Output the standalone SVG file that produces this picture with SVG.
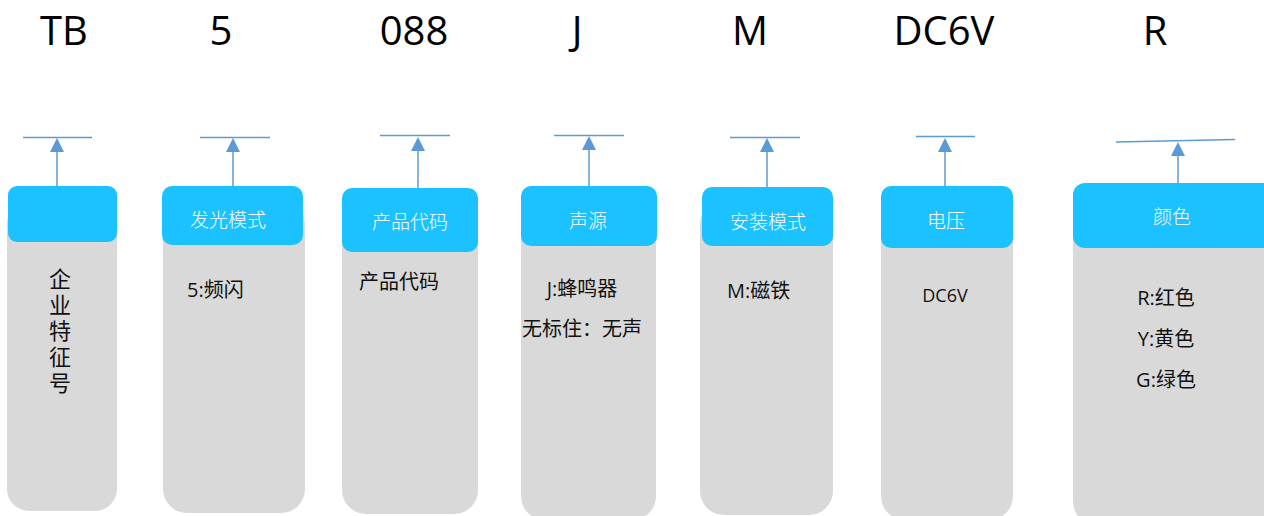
<svg xmlns="http://www.w3.org/2000/svg" width="1264" height="516" viewBox="0 0 1264 516">
<style>
.title{font-family:"Open Sans","Liberation Sans",sans-serif;font-size:40px;fill:#000;text-anchor:middle}
.body{fill:#D9D9D9}
.head{fill:#1CC1FF}
.ht{font-family:"Noto Sans CJK SC","Liberation Sans",sans-serif;font-size:19px;font-weight:300;fill:#fff;text-anchor:middle}
.ct{font-family:"Open Sans","Noto Sans CJK SC",sans-serif;font-size:20px;fill:#111}
.ctm{font-family:"Open Sans","Noto Sans CJK SC",sans-serif;font-size:20px;fill:#111;text-anchor:middle}
.vt{font-family:"Noto Sans CJK SC",sans-serif;font-size:22px;fill:#111;writing-mode:vertical-rl;letter-spacing:4px}
.bar{stroke:#5B9BD5;stroke-width:1.3;fill:none}
.ln{stroke:#5B9BD5;stroke-width:1.5;fill:none}
</style>
<defs>
<polygon id="tri" points="0,0 -7,14 7,14" fill="#5B9BD5"/>
</defs>
<g id="titles">
<text class="title" x="64" y="45">TB</text>
<text class="title" x="221" y="45">5</text>
<text class="title" x="414" y="45">088</text>
<text class="title" x="577" y="45">J</text>
<text class="title" x="750" y="45">M</text>
<text class="title" x="944" y="45">DC6V</text>
<text class="title" x="1155" y="45">R</text>
</g>
<g id="connectors">
<line class="bar" x1="23" y1="137.5" x2="92" y2="137.5"/>
<line class="ln" x1="57" y1="150" x2="57" y2="186"/>
<use href="#tri" x="57" y="138"/>
<line class="bar" x1="200" y1="137.5" x2="270" y2="137.5"/>
<line class="ln" x1="233" y1="150" x2="233" y2="186"/>
<use href="#tri" x="233" y="138"/>
<line class="bar" x1="380" y1="135.5" x2="450" y2="135.5"/>
<line class="ln" x1="418" y1="150" x2="418" y2="188"/>
<use href="#tri" x="418" y="137"/>
<line class="bar" x1="554" y1="135.5" x2="624" y2="135.5"/>
<line class="ln" x1="589" y1="148" x2="589" y2="186"/>
<use href="#tri" x="589" y="136"/>
<line class="bar" x1="730" y1="137.5" x2="800" y2="137.5"/>
<line class="ln" x1="767" y1="150" x2="767" y2="187"/>
<use href="#tri" x="767" y="138"/>
<line class="bar" x1="916" y1="136.5" x2="975" y2="136.5"/>
<line class="ln" x1="945" y1="150" x2="945" y2="186"/>
<use href="#tri" x="945" y="138"/>
<line class="bar" x1="1116" y1="142" x2="1235" y2="139.5"/>
<line class="ln" x1="1178" y1="154" x2="1178" y2="183"/>
<use href="#tri" x="1178" y="142"/>
</g>
<g id="node-tb">
<rect class="body" x="7" y="200" width="110" height="311" rx="22"/>
<rect class="head" x="8" y="186" width="109" height="56" rx="9"/>
<text class="vt" x="60" y="268">企业特征号</text>
</g>
<g id="node-5">
<rect class="body" x="163" y="200" width="142" height="313" rx="24"/>
<rect class="head" x="162" y="186" width="141" height="59" rx="10"/>
<text class="ht" x="228" y="227">发光模式</text>
<text class="ct" x="187" y="297">5:频闪</text>
</g>
<g id="node-088">
<rect class="body" x="342" y="200" width="136" height="314" rx="24"/>
<rect class="head" x="342" y="188" width="136" height="64" rx="10"/>
<text class="ht" x="410" y="229">产品代码</text>
<text class="ct" x="359" y="289">产品代码</text>
</g>
<g id="node-j">
<rect class="body" x="521" y="200" width="135" height="320" rx="24"/>
<rect class="head" x="521" y="186" width="136" height="60" rx="10"/>
<text class="ht" x="588" y="228">声源</text>
<text class="ctm" x="582" y="296">J:蜂鸣器</text>
<text class="ctm" x="582" y="336">无标住：无声</text>
</g>
<g id="node-m">
<rect class="body" x="700" y="200" width="133" height="315" rx="24"/>
<rect class="head" x="702" y="187" width="131" height="59" rx="10"/>
<text class="ht" x="768" y="229">安装模式</text>
<text class="ct" x="727" y="298">M:磁铁</text>
</g>
<g id="node-dc6v">
<rect class="body" x="881" y="200" width="132" height="320" rx="24"/>
<rect class="head" x="881" y="186" width="132" height="62" rx="10"/>
<text class="ht" x="946" y="228">电压</text>
<text class="ctm" x="945" y="302" style="font-size:18px">DC6V</text>
</g>
<g id="node-r">
<rect class="body" x="1073" y="200" width="220" height="330" rx="30"/>
<rect class="head" x="1073" y="183" width="220" height="65" rx="12"/>
<text class="ht" x="1172" y="224">颜色</text>
<text class="ctm" x="1166" y="305">R:红色</text>
<text class="ctm" x="1166" y="346">Y:黄色</text>
<text class="ctm" x="1166" y="387">G:绿色</text>
</g>
</svg>
